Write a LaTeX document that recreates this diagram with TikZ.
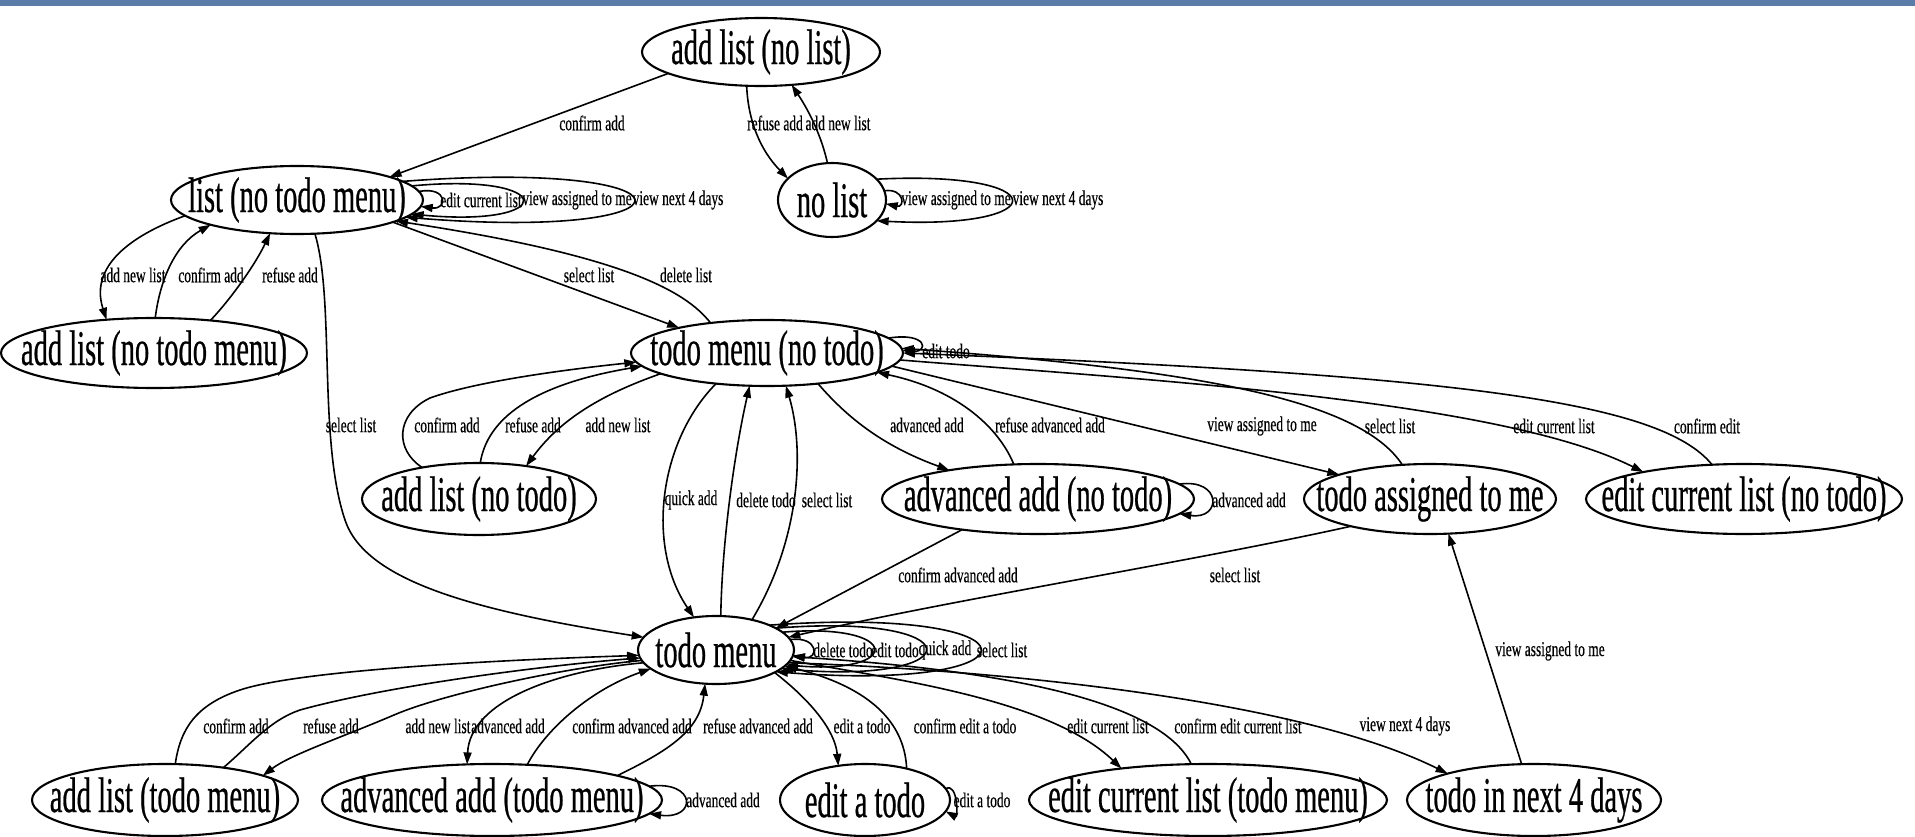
\documentclass[tikz,border=0pt]{standalone}
\usepackage{fontspec}
\usetikzlibrary{shapes.geometric,arrows.meta}
\newfontfamily\ndfam[FakeStretch=0.57,FakeBold=0.5]{Liberation Serif}
\newfontfamily\lbfam[FakeStretch=0.64,FakeBold=0.4]{Liberation Serif}
\newcommand\ndfont{\ndfam\fontsize{50}{54}\selectfont}
\newcommand\lbfont{\lbfam\fontsize{21}{23}\selectfont}
\definecolor{barblue}{HTML}{5B7CA8}
\newcommand\zw[1]{\makebox[0pt]{#1}}
\tikzset{
 st/.style={draw, ellipse, line width=2.1pt, inner sep=0pt, outer sep=0pt, font=\ndfont},
 ed/.style={line width=1.6pt, -{Triangle[length=12pt,width=8pt]}},
 lb/.style={font=\lbfont, inner sep=0pt},
}
\begin{document}
\begin{tikzpicture}[x=1pt,y=-1pt]
\useasboundingbox (0,0) rectangle (1915,837);
\fill[barblue] (0,0) rectangle (1915,6);
% states
\node[st, minimum width=238pt, minimum height=68pt] (A0) at (761,52) {\zw{add list (no list)}};
\node[st, minimum width=252pt, minimum height=68pt] (L0) at (297,200) {\zw{list (no todo menu)}};
\node[st, minimum width=108pt, minimum height=74pt] (NL) at (832,200) {\zw{no list}};
\node[st, minimum width=306pt, minimum height=70pt] (AL0) at (154,353) {\zw{add list (no todo menu)}};
\node[st, minimum width=272pt, minimum height=66pt] (TM0) at (767,353) {\zw{todo menu (no todo)}};
\node[st, minimum width=234pt, minimum height=72pt] (ALN) at (479,499) {\zw{add list (no todo)}};
\node[st, minimum width=312pt, minimum height=70pt] (AAN) at (1038,499) {\zw{advanced add (no todo)}};
\node[st, minimum width=252pt, minimum height=70pt] (TAM) at (1430,499) {\zw{todo assigned to me}};
\node[st, minimum width=316pt, minimum height=70pt] (ECN) at (1744,499) {\zw{edit current list (no todo)}};
\node[st, minimum width=156pt, minimum height=68pt] (TM) at (716,650) {\zw{todo menu}};
\node[st, minimum width=266pt, minimum height=72pt] (ALT) at (165,800) {\zw{add list (todo menu)}};
\node[st, minimum width=340pt, minimum height=72pt] (AAT) at (492,800) {\zw{advanced add (todo menu)}};
\node[st, minimum width=170pt, minimum height=72pt] (EAT) at (865,800) {\zw{edit a todo}};
\node[st, minimum width=358pt, minimum height=72pt] (ECT) at (1208,800) {\zw{edit current list (todo menu)}};
\node[st, minimum width=254pt, minimum height=72pt] (T4) at (1534,800) {\zw{todo in next 4 days}};
% add list (no list)
\draw[ed] (A0.193) -- (L0.14);
\node[lb] (e1) at (592,123) {confirm add};
\draw[ed] (A0.247) .. controls (748,120) and (760,150) .. (NL.154);
\node[lb] (e2) at (775,123) {refuse add};
\draw[ed] (NL.97) .. controls (820,130) and (805,105) .. (A0.-47);
\node[lb] (e3) at (838,123) {add new list};
% no list loops
\draw[ed] (NL.10) .. controls (905,188) and (905,208) .. (NL.-4);
\node[lb] (e4) at (956,200) {view assigned to me};
\draw[ed] (NL.25) .. controls (1056,170) and (1056,230) .. (NL.-25);
\node[lb] (e5) at (1058,200) {view next 4 days};
% list loops
\draw[ed] (L0.4) .. controls (448,186) and (448,210) .. (L0.-3);
\node[lb] (e6) at (481,200) {edit current list};
\draw[ed] (L0.7) .. controls (559,172) and (559,228) .. (L0.-7);
\node[lb] (e7) at (577,200) {view assigned to me};
\draw[ed] (L0.10) .. controls (710,158) and (710,242) .. (L0.-9);
\node[lb] (e8) at (678,200) {view next 4 days};
% list <-> add list (no todo menu)
\draw[ed] (L0.188) .. controls (140,232) and (88,262) .. (AL0.145);
\node[lb] (e9) at (133,275) {add new list};
\draw[ed] (AL0.88) .. controls (160,280) and (175,245) .. (L0.196);
\node[lb] (e10) at (211,275) {confirm add};
\draw[ed] (AL0.30) .. controls (230,300) and (255,265) .. (L0.231);
\node[lb] (e11) at (290,275) {refuse add};
% list <-> todo menu (no todo)
\draw[ed] (L0.-13) -- (TM0.164);
\node[lb] (e12) at (589,275) {select list};
\draw[ed] (TM0.152) .. controls (685,290) and (620,255) .. (L0.-12);
\node[lb] (e13) at (686,275) {delete list};
\draw[ed] (L0.-62) .. controls (335,300) and (318,440) .. (345,520) .. controls (365,580) and (470,610) .. (TM.170);
\node[lb] (e14) at (351,425) {select list};
% add list (no todo)
\draw[ed] (ALN.151) .. controls (395,450) and (395,415) .. (430,398) .. controls (480,380) and (580,368) .. (TM0.184);
\node[lb] (e15) at (447,425) {confirm add};
\draw[ed] (ALN.88) .. controls (487,420) and (530,385) .. (TM0.186);
\node[lb] (e16) at (533,425) {refuse add};
\draw[ed] (TM0.191) .. controls (600,395) and (560,420) .. (ALN.35);
\node[lb] (e17) at (618,425) {add new list};
% todo menu (no todo) <-> todo menu
\draw[ed] (TM0.211) .. controls (660,440) and (645,545) .. (TM.124);
\node[lb] (e18) at (691,500) {quick add};
\draw[ed] (TM.82) .. controls (722,540) and (735,450) .. (TM0.242);
\node[lb] (e19) at (766,500) {delete todo};
\draw[ed] (TM.40) .. controls (800,540) and (805,450) .. (TM0.-60);
\node[lb] (e20) at (827,500) {select list};
% advanced add (no todo)
\draw[ed] (TM0.-31) .. controls (845,415) and (880,445) .. (AAN.162);
\node[lb] (e21) at (927,425) {advanced add};
\draw[ed] (AAN.125) .. controls (1000,430) and (960,390) .. (TM0.-10);
\node[lb] (e22) at (1050,425) {refuse advanced add};
\draw[ed] (AAN.6) .. controls (1222,478) and (1222,520) .. (AAN.-6);
\node[lb] (e23) at (1249,500) {advanced add};
\draw[ed] (AAN.202) -- (TM.20);
\node[lb] (e24) at (958,575) {confirm advanced add};
% todo assigned to me
\draw[ed] (TM0.-6) -- (TAM.165);
\node[lb] (e25) at (1262,426) {view assigned to me};
\draw[ed] (TAM.129) .. controls (1360,400) and (1200,370) .. (TM0.2);
\node[lb] (e26) at (1390,426) {select list};
\draw[ed] (TAM.199) .. controls (1200,560) and (950,600) .. (TM.10);
\node[lb] (e27) at (1235,575) {select list};
% edit current list (no todo)
\draw[ed] (TM0.-3) .. controls (1150,380) and (1500,400) .. (ECN.165);
\node[lb] (e28) at (1554,426) {edit current list};
\draw[ed] (ECN.133) .. controls (1660,400) and (1450,375) .. (TM0.0);
\node[lb] (e29) at (1707,426) {confirm edit};
\draw[ed] (TM0.7) .. controls (928,332) and (928,352) .. (TM0.1);
\node[lb] (e30) at (946,351) {edit todo};
% todo in next 4 days -> todo assigned to me
\draw[ed] (T4.109) -- (TAM.-62);
\node[lb] (e31) at (1550,651) {view assigned to me};
% todo menu loops
\draw[ed] (TM.8) .. controls (819,636) and (819,660) .. (TM.-4);
\node[lb] (e32) at (843,650) {delete todo};
\draw[ed] (TM.15) .. controls (903,622) and (903,675) .. (TM.-12);
\node[lb] (e33) at (895,650) {edit todo};
\draw[ed] (TM.20) .. controls (974,612) and (974,685) .. (TM.-16);
\node[lb] (e34) at (945,650) {quick add};
\draw[ed] (TM.25) .. controls (1049,605) and (1049,693) .. (TM.-20);
\node[lb] (e35) at (1002,650) {select list};
% add list (todo menu)
\draw[ed] (ALT.74) .. controls (180,730) and (195,705) .. (240,690) .. controls (300,670) and (500,660) .. (TM.184);
\node[lb] (e36) at (236,726) {confirm add};
\draw[ed] (ALT.29) .. controls (250,745) and (270,720) .. (300,710) .. controls (390,685) and (550,665) .. (TM.186);
\node[lb] (e37) at (331,726) {refuse add};
\draw[ed] (TM.188) .. controls (560,668) and (440,695) .. (394,715) .. controls (340,738) and (290,755) .. (ALT.14);
\node[lb] (e38) at (438,726) {add new list};
% advanced add (todo menu)
\draw[ed] (TM.190) .. controls (560,670) and (470,700) .. (AAT.125);
\node[lb] (e39) at (508,726) {advanced add};
\draw[ed] (AAT.45) .. controls (545,730) and (590,690) .. (TM.196);
\node[lb] (e40) at (632,726) {confirm advanced add};
\draw[ed] (AAT.11) .. controls (670,750) and (700,730) .. (TM.252);
\node[lb] (e41) at (758,726) {refuse advanced add};
\draw[ed] (AAT.5) .. controls (697,780) and (697,820) .. (AAT.-5);
\node[lb] (e42) at (723,800) {advanced add};
% edit a todo
\draw[ed] (TM.-21) .. controls (810,700) and (835,730) .. (EAT.128);
\node[lb] (e43) at (862,726) {edit a todo};
\draw[ed] (EAT.37) .. controls (905,730) and (880,690) .. (TM.-13);
\node[lb] (e44) at (965,726) {confirm edit a todo};
\draw[ed] (EAT.8) .. controls (958,782) and (958,818) .. (EAT.-8);
\node[lb] (e45) at (982,800) {edit a todo};
% edit current list (todo menu), todo in next 4 days
\draw[ed] (TM.-8) .. controls (900,680) and (1050,700) .. (ECT.160);
\node[lb] (e46) at (1108,726) {edit current list};
\draw[ed] (ECT.115) .. controls (1160,700) and (1000,670) .. (TM.-5);
\node[lb] (e47) at (1238,726) {confirm edit current list};
\draw[ed] (TM.-10) .. controls (1000,670) and (1300,700) .. (T4.163);
\node[lb] (e48) at (1405,726) {view next 4 days};
\end{tikzpicture}
\end{document}
